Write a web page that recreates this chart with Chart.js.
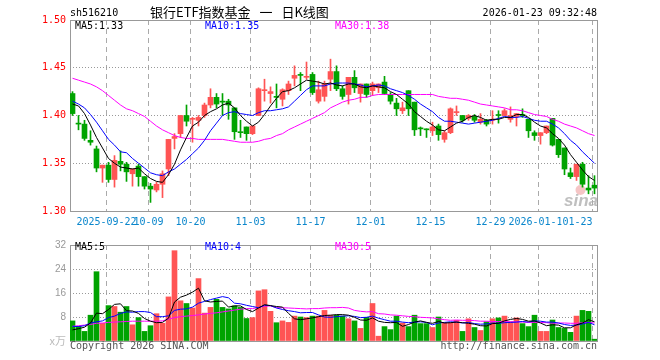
<!DOCTYPE html>
<html><head><meta charset="utf-8">
<script src="https://cdn.jsdelivr.net/npm/chart.js@4/dist/chart.umd.min.js"></script>
<style>
html,body{margin:0;padding:0;background:#fff;}
#wrap{position:relative;width:660px;height:360px;overflow:hidden;background:#fff;}
#cp{position:absolute;left:0;top:0;}
#cv{position:absolute;left:0;top:235px;}
</style></head><body>
<div id="wrap"><canvas id="cp" width="660" height="235"></canvas><canvas id="cv" width="660" height="125"></canvas></div>
<script>
// ---------- data ----------
const dates = [
'2025-09-12','2025-09-15','2025-09-16','2025-09-17','2025-09-18','2025-09-19','2025-09-22','2025-09-23','2025-09-24','2025-09-25',
'2025-09-26','2025-09-29','2025-09-30','2025-10-09','2025-10-10','2025-10-13','2025-10-14','2025-10-15','2025-10-16','2025-10-17',
'2025-10-20','2025-10-21','2025-10-22','2025-10-23','2025-10-24','2025-10-27','2025-10-28','2025-10-29','2025-10-30','2025-10-31',
'2025-11-03','2025-11-04','2025-11-05','2025-11-06','2025-11-07','2025-11-10','2025-11-11','2025-11-12','2025-11-13','2025-11-14',
'2025-11-17','2025-11-18','2025-11-19','2025-11-20','2025-11-21','2025-11-24','2025-11-25','2025-11-26','2025-11-27','2025-11-28',
'2025-12-01','2025-12-02','2025-12-03','2025-12-04','2025-12-05','2025-12-08','2025-12-09','2025-12-10','2025-12-11','2025-12-12',
'2025-12-15','2025-12-16','2025-12-17','2025-12-18','2025-12-19','2025-12-22','2025-12-23','2025-12-24','2025-12-25','2025-12-26',
'2025-12-29','2025-12-30','2025-12-31','2026-01-05','2026-01-06','2026-01-07','2026-01-08','2026-01-09','2026-01-12','2026-01-13',
'2026-01-14','2026-01-15','2026-01-16','2026-01-19','2026-01-20','2026-01-21','2026-01-22','2026-01-23'];

const open = [
1.423,1.392,1.391,1.374,1.365,1.345,1.348,1.333,1.352,1.349,
1.339,1.347,1.336,1.326,1.322,1.328,1.344,1.376,1.381,1.400,
1.396,1.395,1.400,1.411,1.419,1.415,1.415,1.408,1.383,1.388,
1.381,1.400,1.426,1.423,1.420,1.417,1.426,1.439,1.443,1.440,
1.443,1.415,1.420,1.438,1.446,1.428,1.422,1.440,1.423,1.433,
1.426,1.429,1.435,1.422,1.413,1.405,1.426,1.414,1.387,1.386,
1.384,1.389,1.375,1.382,1.403,1.400,1.397,1.399,1.393,1.395,
1.395,1.401,1.400,1.396,1.399,1.401,1.396,1.382,1.379,1.382,
1.397,1.375,1.366,1.340,1.336,1.349,1.324,1.327];
const high = [
1.425,1.400,1.395,1.384,1.368,1.348,1.351,1.358,1.363,1.351,
1.344,1.349,1.336,1.329,1.330,1.342,1.375,1.381,1.400,1.411,
1.398,1.400,1.413,1.428,1.423,1.423,1.417,1.408,1.395,1.388,
1.389,1.429,1.438,1.430,1.433,1.428,1.436,1.452,1.445,1.456,
1.445,1.436,1.436,1.459,1.452,1.431,1.440,1.447,1.433,1.433,
1.435,1.433,1.441,1.424,1.418,1.414,1.426,1.414,1.388,1.386,
1.393,1.391,1.384,1.408,1.410,1.400,1.401,1.401,1.402,1.396,
1.405,1.405,1.407,1.409,1.402,1.407,1.396,1.384,1.382,1.389,
1.397,1.375,1.366,1.345,1.349,1.351,1.337,1.337];
const low = [
1.400,1.385,1.374,1.369,1.341,1.330,1.330,1.325,1.342,1.331,
1.326,1.326,1.323,1.309,1.320,1.314,1.337,1.365,1.377,1.389,
1.372,1.389,1.398,1.408,1.408,1.400,1.396,1.375,1.377,1.374,
1.380,1.400,1.415,1.413,1.408,1.410,1.422,1.431,1.426,1.438,
1.422,1.413,1.415,1.426,1.426,1.417,1.412,1.424,1.414,1.419,
1.421,1.424,1.422,1.412,1.400,1.402,1.400,1.379,1.379,1.377,
1.379,1.374,1.372,1.381,1.400,1.393,1.395,1.393,1.391,1.389,
1.391,1.392,1.400,1.393,1.389,1.398,1.377,1.374,1.370,1.381,
1.368,1.356,1.338,1.334,1.332,1.325,1.318,1.318];
const close = [
1.402,1.391,1.376,1.372,1.345,1.348,1.333,1.353,1.349,1.341,
1.344,1.336,1.326,1.323,1.328,1.339,1.375,1.378,1.400,1.394,
1.397,1.398,1.411,1.419,1.412,1.414,1.411,1.383,1.382,1.381,
1.389,1.428,1.427,1.425,1.419,1.427,1.433,1.442,1.442,1.441,
1.424,1.427,1.433,1.446,1.428,1.420,1.440,1.429,1.433,1.422,
1.433,1.433,1.423,1.415,1.407,1.408,1.407,1.385,1.386,1.385,
1.388,1.380,1.382,1.407,1.404,1.395,1.400,1.395,1.396,1.391,
1.396,1.400,1.405,1.400,1.402,1.400,1.384,1.379,1.382,1.389,
1.369,1.359,1.344,1.336,1.349,1.328,1.322,1.324];

const ma5 = [
1.412,1.410,1.402,1.390,1.377,1.366,1.355,1.350,1.346,1.345,
1.344,1.345,1.339,1.334,1.331,1.330,1.338,1.349,1.364,1.377,
1.389,1.393,1.400,1.404,1.407,1.411,1.413,1.408,1.400,1.394,
1.389,1.393,1.401,1.410,1.418,1.425,1.426,1.429,1.433,1.437,
1.436,1.435,1.433,1.434,1.432,1.431,1.433,1.433,1.430,1.429,
1.431,1.430,1.429,1.425,1.422,1.417,1.412,1.404,1.399,1.394,
1.390,1.385,1.384,1.388,1.392,1.394,1.398,1.400,1.398,1.395,
1.396,1.396,1.398,1.398,1.401,1.401,1.398,1.393,1.389,1.387,
1.381,1.376,1.369,1.359,1.351,1.343,1.336,1.332];
const ma10 = [
1.415,1.412,1.408,1.401,1.393,1.384,1.375,1.369,1.362,1.361,
1.355,1.350,1.345,1.340,1.338,1.337,1.341,1.344,1.349,1.354,
1.360,1.366,1.374,1.384,1.392,1.400,1.403,1.404,1.402,1.401,
1.400,1.403,1.405,1.405,1.406,1.407,1.409,1.415,1.421,1.427,
1.431,1.431,1.431,1.433,1.434,1.434,1.434,1.433,1.432,1.430,
1.431,1.432,1.431,1.428,1.426,1.424,1.421,1.417,1.412,1.408,
1.404,1.398,1.394,1.394,1.393,1.392,1.391,1.392,1.393,1.394,
1.395,1.397,1.399,1.398,1.398,1.399,1.397,1.395,1.394,1.394,
1.391,1.387,1.381,1.374,1.369,1.362,1.356,1.350];
const ma30 = [
1.439,1.437,1.435,1.433,1.430,1.426,1.421,1.416,1.411,1.407,
1.405,1.402,1.399,1.394,1.389,1.385,1.382,1.379,1.377,1.376,
1.376,1.375,1.375,1.375,1.375,1.375,1.374,1.373,1.372,1.372,
1.372,1.373,1.375,1.376,1.379,1.381,1.385,1.388,1.391,1.394,
1.397,1.400,1.403,1.408,1.411,1.414,1.416,1.417,1.419,1.419,
1.421,1.422,1.422,1.422,1.422,1.422,1.422,1.422,1.422,1.422,
1.422,1.420,1.419,1.418,1.418,1.417,1.416,1.414,1.412,1.411,
1.410,1.409,1.408,1.406,1.406,1.405,1.403,1.401,1.400,1.399,
1.396,1.394,1.391,1.389,1.387,1.384,1.381,1.379];

const volume = [
6.7,4.9,3.2,8.6,23.1,5.9,11.8,11.5,9.6,11.5,
5.4,7.8,3.2,5.1,9.1,5.9,14.7,30.1,13.4,12.5,
11.0,20.8,9.3,11.2,13.9,11.2,10.7,11.7,11.2,7.5,
7.8,16.7,17.1,9.9,6.1,6.7,6.2,8.3,8.0,7.8,
8.3,8.3,10.2,8.6,8.6,8.3,7.4,6.7,4.2,7.9,
12.5,1.6,4.8,3.8,8.3,6.0,4.8,8.6,5.8,5.8,
4.5,8.0,6.1,6.1,6.9,3.2,7.4,4.5,3.5,6.4,
7.4,7.7,8.3,6.4,7.7,5.8,4.8,8.6,3.2,3.2,
7.0,4.5,4.2,2.9,8.3,10.2,9.9,0.6];
const vma5 = [
3.7,4.1,4.6,6.0,9.3,9.1,10.5,12.2,12.4,10.1,
10.0,9.2,7.5,6.6,6.1,6.2,7.6,13.0,14.6,15.3,
16.3,17.6,13.4,13.0,13.2,13.3,11.3,11.7,11.7,10.5,
9.8,11.0,12.1,11.8,11.5,11.3,9.2,7.4,7.1,7.4,
7.7,8.1,8.5,8.6,8.8,8.8,8.6,7.9,7.0,6.9,
7.7,6.6,6.2,6.1,6.2,4.9,5.5,6.3,6.7,6.2,
5.9,6.5,6.0,6.1,6.3,6.1,5.9,5.6,5.1,5.0,
5.8,5.9,6.7,7.2,7.5,7.2,6.6,6.7,6.0,5.1,
5.4,5.3,4.4,4.4,5.4,6.0,7.1,6.4];
const vma10 = [
4.9,4.8,5.1,6.0,6.4,6.7,7.8,8.3,9.2,9.7,
9.6,9.8,9.8,9.5,8.1,8.1,8.4,10.2,10.6,10.7,
11.3,12.6,13.2,13.8,14.3,14.8,14.4,12.6,12.4,11.9,
11.5,11.1,11.9,11.8,11.0,10.5,10.1,9.8,9.4,9.5,
9.5,8.7,8.0,7.9,8.1,8.3,8.4,8.2,7.8,7.9,
8.3,7.6,7.1,6.6,6.6,6.3,6.1,6.3,6.4,6.2,
5.4,6.0,6.2,6.4,6.3,6.0,6.2,5.8,5.6,5.7,
6.0,5.9,6.1,6.2,6.3,6.5,6.3,6.7,6.6,6.3,
6.3,6.0,5.5,5.2,5.3,5.7,6.2,5.4];
const vma30 = [
4.9,5.1,5.3,5.5,5.9,6.0,6.2,6.3,6.4,6.5,
6.6,6.6,6.6,6.6,6.6,6.7,7.3,7.8,8.1,8.3,
8.5,8.7,9.0,9.2,9.4,9.7,10.0,10.3,10.6,10.8,
10.8,11.2,11.6,11.7,11.1,11.1,11.0,10.9,10.8,10.7,
10.8,10.8,11.0,11.1,11.1,11.2,11.0,10.2,9.9,9.7,
9.8,9.1,9.0,8.7,8.6,8.4,8.2,8.1,7.9,7.8,
7.7,7.4,7.1,6.9,7.0,6.9,6.9,6.8,6.6,6.6,
6.5,6.5,6.5,6.4,6.4,6.3,6.2,6.2,6.2,6.1,
5.9,6.0,6.0,5.9,5.9,6.1,6.2,6.0];

const tickDays   = [6, 13, 20, 30, 40, 50, 60, 70, 78, 87];
const tickLabels = ['2025-09-22','10-09','10-20','11-03','11-17','12-01','12-15','12-29','2026-01-12','01-23'];
const priceTicks = [1.30, 1.35, 1.40, 1.45, 1.50];
const volTicks   = [0, 8, 16, 24, 32];
const titleCode  = 'sh516210';
const titleText  = '银行ETF指数基金 一 日K线图';
const stampText  = '2026-01-23 09:32:48';
const priceLegend = ['MA5:1.33', 'MA10:1.35', 'MA30:1.38'];
const volLegend   = ['MA5:5', 'MA10:4', 'MA30:5'];
const volUnit     = 'x万';

// ---------- style ----------
const MONO = '"DejaVu Sans Mono", monospace';
const RED = '#ff5454', GREEN = '#00a300';
const LINE_COLORS = ['#000000', '#0000ff', '#ff00ff'];
const XMIN = -5/12, XMAX = XMIN + 527/6;
const GRID_SHIFT = 1/3;
const idx = dates.map((d, i) => i);
const candleColor = idx.map(i => close[i] >= open[i] ? RED : GREEN);
const gridPos = tickDays.map(d => d - GRID_SHIFT);
const labelPos = gridPos.map((p, i) => i === gridPos.length - 1 ? p - 2.5 : p);

function lineDs(label, arr, color) {
  return { type: 'line', label, data: idx.map(i => ({ x: i, y: arr[i] })),
    borderColor: color, borderWidth: 1, pointRadius: 0, tension: 0, order: 0 };
}
function xGridAxis() {
  return { type: 'linear', min: XMIN, max: XMAX, position: 'bottom', offset: false,
    afterBuildTicks: s => { s.ticks = gridPos.map(v => ({ value: v })); },
    afterFit: s => { s.height = 0; },
    ticks: { display: false },
    grid: { color: '#aaaaaa', drawTicks: false, lineWidth: 1, offset: false },
    border: { display: false, dash: [5, 4] } };
}
const boxPlugin = {
  id: 'box',
  beforeDatasetsDraw(chart, args, opts) {
    const { ctx, chartArea: a } = chart;
    ctx.save();
    if (opts.watermark) {
      ctx.fillStyle = 'rgba(236,150,150,0.55)';
      ctx.beginPath(); ctx.arc(580.5, 190, 5, 0, Math.PI * 2); ctx.fill();
      ctx.fillStyle = 'rgba(170,170,170,0.75)';
      ctx.font = 'italic bold 17px "Liberation Sans", sans-serif';
      ctx.textAlign = 'left'; ctx.textBaseline = 'alphabetic';
      ctx.fillText('sina', 564, 206);
    }
    ctx.strokeStyle = '#999999'; ctx.lineWidth = 1;
    ctx.strokeRect(a.left + 0.5, a.top + 0.5, a.right - a.left, a.bottom - a.top);
    ctx.restore();
  },
  afterDraw(chart, args, opts) {
    const { ctx } = chart;
    ctx.save();
    (opts.texts || []).forEach(t => {
      ctx.font = t.font || ('10px ' + MONO);
      ctx.fillStyle = t.color || '#000';
      ctx.textAlign = t.align || 'left';
      ctx.textBaseline = 'middle';
      if ('wordSpacing' in ctx) ctx.wordSpacing = t.wordSpacing || '0px';
      ctx.fillText(t.text, t.x, t.y);
    });
    ctx.restore();
  }
};

// ---------- price chart ----------
new Chart(document.getElementById('cp'), {
  type: 'bar',
  data: { datasets: [
    lineDs('MA5', ma5, LINE_COLORS[0]),
    lineDs('MA10', ma10, LINE_COLORS[1]),
    lineDs('MA30', ma30, LINE_COLORS[2]),
    { label: 'body', data: idx.map(i => ({ x: i, y: [open[i], close[i]] })),
      backgroundColor: candleColor, borderWidth: 0, barThickness: 5, minBarLength: 1, grouped: false, order: 1 },
    { label: 'wick', data: idx.map(i => ({ x: i, y: [low[i], high[i]] })),
      backgroundColor: candleColor, borderWidth: 0, barThickness: 1, grouped: false, order: 2 }
  ] },
  options: {
    responsive: false, animation: false, events: [],
    layout: { padding: { left: 0, right: 63, top: 20, bottom: 0 } },
    plugins: { legend: { display: false }, tooltip: { enabled: false },
      box: { watermark: true, texts: [
        { text: titleCode, x: 70, y: 13 },
        { text: titleText, x: 150, y: 12, font: '13px "Noto Sans CJK SC", sans-serif', wordSpacing: '6px' },
        { text: stampText, x: 597, y: 13, align: 'right' },
        { text: priceLegend[0], x: 75, y: 26, color: LINE_COLORS[0] },
        { text: priceLegend[1], x: 205, y: 26, color: LINE_COLORS[1] },
        { text: priceLegend[2], x: 335, y: 26, color: LINE_COLORS[2] }
      ] } },
    scales: {
      x: xGridAxis(),
      xl: { type: 'linear', min: XMIN, max: XMAX, position: 'bottom', offset: false,
        afterBuildTicks: s => { s.ticks = labelPos.map(v => ({ value: v })); },
        afterFit: s => { s.height = 24; },
        grid: { display: false, drawTicks: false, offset: false }, border: { display: false },
        ticks: { autoSkip: false, maxRotation: 0, minRotation: 0, padding: 5, color: '#0a86cc',
          font: { family: MONO, size: 10 }, callback: (v, i) => tickLabels[i],
          showLabelBackdrop: c => c.index === tickLabels.length - 1, backdropColor: '#ffffff', backdropPadding: 1 } },
      y: { min: priceTicks[0], max: priceTicks[priceTicks.length - 1], position: 'left',
        afterBuildTicks: s => { s.ticks = priceTicks.map(v => ({ value: v })); },
        afterFit: s => { s.width = 70; },
        ticks: { color: '#ff0000', padding: 4, font: { family: MONO, size: 10 }, callback: v => Number(v).toFixed(2) },
        grid: { color: '#999999', drawTicks: false }, border: { display: false, dash: [1, 2] } }
    }
  },
  plugins: [boxPlugin]
});

// ---------- volume chart ----------
new Chart(document.getElementById('cv'), {
  type: 'bar',
  data: { datasets: [
    lineDs('MA5', vma5, LINE_COLORS[0]),
    lineDs('MA10', vma10, LINE_COLORS[1]),
    lineDs('MA30', vma30, LINE_COLORS[2]),
    { label: 'vol', data: idx.map(i => ({ x: i, y: volume[i] })),
      backgroundColor: candleColor, borderWidth: 0, barThickness: 5, grouped: false, order: 1 }
  ] },
  options: {
    responsive: false, animation: false, events: [],
    layout: { padding: { left: 0, right: 63, top: 6, bottom: 19 } },
    plugins: { legend: { display: false }, tooltip: { enabled: false },
      box: { watermark: false, texts: [
        { text: volLegend[0], x: 75, y: 12, color: LINE_COLORS[0] },
        { text: volLegend[1], x: 205, y: 12, color: LINE_COLORS[1] },
        { text: volLegend[2], x: 335, y: 12, color: LINE_COLORS[2] },
        { text: 'Copyright 2026 SINA.COM', x: 70, y: 111, color: '#555555' },
        { text: 'http://finance.sina.com.cn', x: 597, y: 111, align: 'right', color: '#555555' }
      ] } },
    scales: {
      x: xGridAxis(),
      y: { min: volTicks[0], max: volTicks[volTicks.length - 1], position: 'left',
        afterBuildTicks: s => { s.ticks = volTicks.map(v => ({ value: v })); },
        afterFit: s => { s.width = 70; },
        ticks: { padding: 4,
          color: c => c.tick && c.tick.value === 0 ? '#bbbbbb' : '#999999',
          font: c => c.tick && c.tick.value === 0 ? { family: '"Noto Sans CJK SC", serif', size: 11 } : { family: '"Liberation Sans", sans-serif', size: 10 },
          callback: v => v === 0 ? volUnit : String(v) },
        grid: { color: '#999999', drawTicks: false }, border: { display: false, dash: [1, 2] } }
    }
  },
  plugins: [boxPlugin]
});
</script>
</body></html>
